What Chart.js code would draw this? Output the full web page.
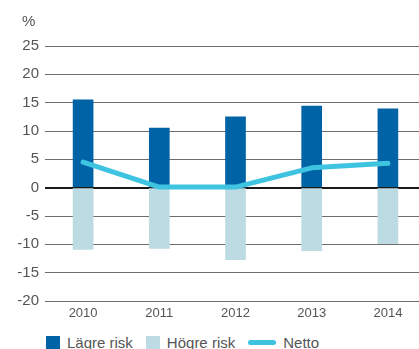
<!DOCTYPE html>
<html>
<head>
<meta charset="utf-8">
<script src="https://cdn.jsdelivr.net/npm/chart.js@4/dist/chart.umd.min.js"></script>
<style>
  html, body {
    margin: 0;
    padding: 0;
    width: 419px;
    height: 349px;
    overflow: hidden;
    background: #fff;
    font-family: 'Liberation Sans', Arial, sans-serif;
  }
  .graphic {
    position: absolute;
    left: 0;
    top: 0;
    width: 426px;
    height: 325px;
  }
  .legend {
    position: absolute;
    left: 46px;
    top: 334px;
    display: flex;
    align-items: center;
    font-size: 15px;
    color: #555;
    white-space: nowrap;
  }
  .legend .item {
    display: flex;
    align-items: center;
    margin-right: 13px;
  }
  .legend .swatch {
    width: 14px;
    height: 14px;
    margin-right: 7px;
  }
  .legend .swatch.line {
    width: 28px;
    height: 5px;
    border-radius: 3px;
  }
</style>
</head>
<body>
<div class="graphic"><canvas id="chart"></canvas></div>
<div class="legend" id="legend"></div>

<script>
const years = ['2010', '2011', '2012', '2013', '2014'];
const lagreRisk = [15.5, 10.5, 12.5, 14.4, 13.9];
const hogreRisk = [-10.9, -10.7, -12.7, -11.1, -9.9];
const netto = [4.5, 0.1, 0.1, 3.5, 4.3];

const colors = {
  lagre: '#0063a6',
  hogre: '#bcdbe2',
  netto: '#3ec3e0',
  text: '#555555',
};

//"%" unit label above the y axis
const unitLabel = {
  id: 'unitLabel',
  afterDraw(chart) {
    const ctx = chart.ctx;
    ctx.save();
    ctx.font = '15px "Liberation Sans", Arial, sans-serif';
    ctx.fillStyle = colors.text;
    ctx.textAlign = 'left';
    ctx.textBaseline = 'middle';
    ctx.fillText('%', 22, 22);
    ctx.restore();
  },
};

const ctx = document.getElementById('chart');

new Chart(ctx, {
  type: 'bar',
  data: {
    labels: years,
    datasets: [
      {
        type: 'line',
        label: 'Netto',
        data: netto,
        borderColor: colors.netto,
        backgroundColor: colors.netto,
        borderWidth: 5,
        borderCapStyle: 'round',
        borderJoinStyle: 'round',
        pointRadius: 0,
        tension: 0,
        order: 0,
      },
      {
        label: 'Lägre risk',
        data: lagreRisk,
        backgroundColor: colors.lagre,
        borderWidth: 0,
        barThickness: 20,
        grouped: false,
        order: 1,
      },
      {
        label: 'Högre risk',
        data: hogreRisk,
        backgroundColor: colors.hogre,
        borderWidth: 0,
        barThickness: 20,
        grouped: false,
        order: 1,
      },
    ],
  },
  options: {
    responsive: true,
    maintainAspectRatio: false,
    animation: false,
    layout: { padding: { top: 46, left: 0, right: 0, bottom: 0 } },
    plugins: {
      legend: { display: false },
      tooltip: { enabled: false },
    },
    scales: {
      x: {
        grid: { display: false, drawTicks: false },
        border: { display: false },
        ticks: {
          color: colors.text,
          font: { family: "'Liberation Sans', Arial, sans-serif", size: 13 },
          padding: 5,
        },
        afterFit(scale) {
          scale.height = 24;
        },
      },
      y: {
        min: -20,
        max: 25,
        grid: {
          drawTicks: false,
          color: (c) => (c.tick && c.tick.value === 0 ? '#1a1a1a' : '#6e6e6e'),
          lineWidth: (c) => (c.tick && c.tick.value === 0 ? 2 : 1),
        },
        border: { display: false },
        ticks: {
          stepSize: 5,
          color: colors.text,
          font: { family: "'Liberation Sans', Arial, sans-serif", size: 15 },
          padding: 6,
        },
        afterFit(scale) {
          scale.width = 45;
        },
      },
    },
  },
  plugins: [unitLabel],
});

//legend drawn as html under the chart
const legendItems = [
  { label: 'Lägre risk', color: colors.lagre, line: false },
  { label: 'Högre risk', color: colors.hogre, line: false },
  { label: 'Netto', color: colors.netto, line: true },
];
const legendEl = document.getElementById('legend');
legendItems.forEach((item) => {
  const el = document.createElement('div');
  el.className = 'item';
  const sw = document.createElement('span');
  sw.className = 'swatch' + (item.line ? ' line' : '');
  sw.style.background = item.color;
  const txt = document.createElement('span');
  txt.textContent = item.label;
  el.appendChild(sw);
  el.appendChild(txt);
  legendEl.appendChild(el);
});
</script>
</body>
</html>
